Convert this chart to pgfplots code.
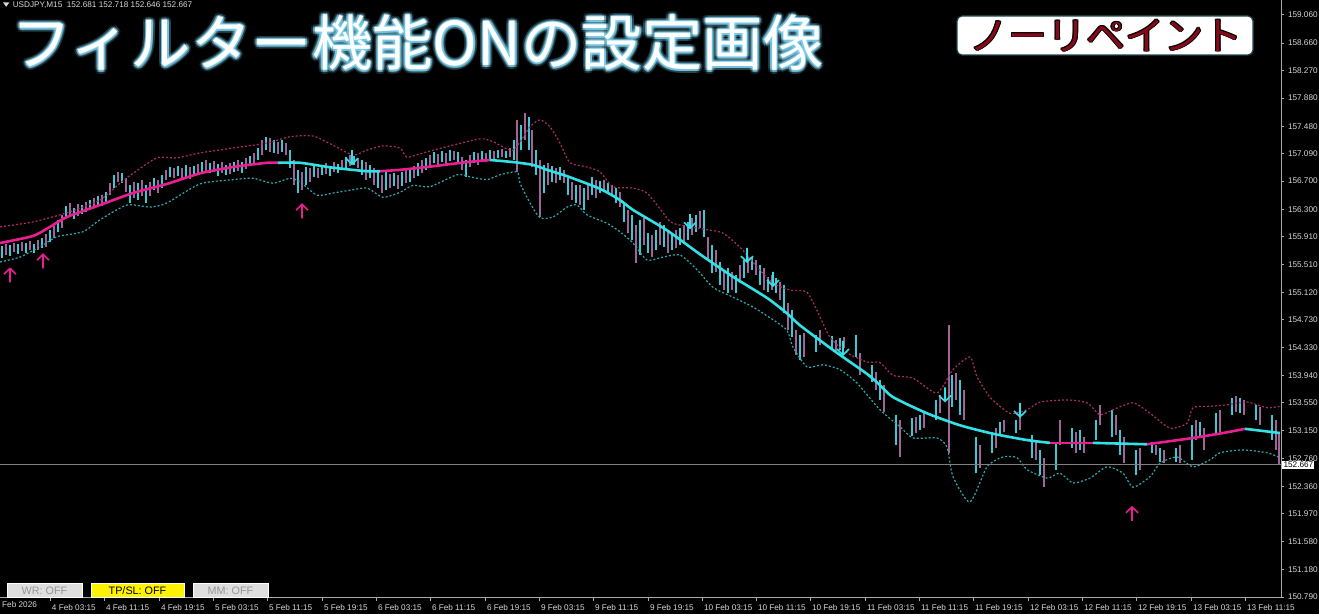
\documentclass[border=0pt]{standalone}
\usepackage{fontspec}
\setmainfont{Liberation Sans}
\newfontfamily\cjk{Noto Sans CJK JP}
\usepackage{pgfplots}
\usepackage{pgfplotstable}
\pgfplotsset{compat=1.18}

\definecolor{candleup}{RGB}{60,200,210}
\definecolor{candledn}{RGB}{160,100,150}
\definecolor{mapink}{RGB}{235,30,145}
\definecolor{macyan}{RGB}{50,225,230}
\definecolor{bandup}{RGB}{170,45,100}
\definecolor{banddn}{RGB}{45,170,175}
\definecolor{axgray}{RGB}{170,170,170}
\definecolor{lbl}{RGB}{215,215,215}
\definecolor{glow}{RGB}{130,215,245}
\definecolor{badgered}{RGB}{135,10,25}
\definecolor{btngray}{RGB}{222,222,222}
\definecolor{btntext}{RGB}{150,150,150}

% arrow signals
\pgfdeclareplotmark{arrup}{%
  \pgfpathmoveto{\pgfqpoint{0pt}{-3.5pt}}\pgfpathlineto{\pgfqpoint{0pt}{3.4pt}}%
  \pgfpathmoveto{\pgfqpoint{-3pt}{0.6pt}}\pgfpathlineto{\pgfqpoint{0pt}{3.5pt}}%
  \pgfpathlineto{\pgfqpoint{3pt}{0.6pt}}\pgfusepathqstroke}
\pgfdeclareplotmark{arrdn}{%
  \pgfpathmoveto{\pgfqpoint{0pt}{3.5pt}}\pgfpathlineto{\pgfqpoint{0pt}{-3.4pt}}%
  \pgfpathmoveto{\pgfqpoint{-3pt}{-0.6pt}}\pgfpathlineto{\pgfqpoint{0pt}{-3.5pt}}%
  \pgfpathlineto{\pgfqpoint{3pt}{-0.6pt}}\pgfusepathqstroke}

\pgfplotstableread{
x lo hi
2 155.61 155.78
6 155.65 155.81
10 155.64 155.79
14 155.69 155.82
18 155.66 155.81
22 155.71 155.83
26 155.68 155.82
30 155.72 155.85
34 155.68 155.81
38 155.72 155.86
42 155.75 155.89
46 155.76 155.95
50 155.83 156.01
54 155.89 156.06
58 155.98 156.15
62 156.03 156.22
66 156.18 156.35
70 156.22 156.39
74 156.16 156.32
78 156.20 156.37
82 156.23 156.36
86 156.26 156.40
90 156.29 156.43
94 156.32 156.46
98 156.36 156.49
102 156.35 156.50
106 156.39 156.54
110 156.50 156.67
114 156.60 156.79
118 156.69 156.83
122 156.67 156.81
126 156.55 156.74
130 156.39 156.64
134 156.46 156.69
138 156.43 156.67
142 156.49 156.72
146 156.39 156.64
150 156.49 156.69
154 156.57 156.74
158 156.53 156.72
162 156.60 156.79
166 156.72 156.86
170 156.76 156.90
174 156.74 156.89
178 156.77 156.91
182 156.72 156.89
186 156.76 156.93
190 156.73 156.90
194 156.77 156.91
198 156.80 156.94
202 156.83 156.97
206 156.84 157.00
210 156.81 156.96
214 156.83 156.99
218 156.77 156.94
222 156.81 156.97
226 156.79 156.93
230 156.80 156.96
234 156.83 156.97
238 156.84 157.00
242 156.81 156.97
246 156.87 157.03
250 156.91 157.06
254 156.94 157.10
258 157.00 157.17
262 157.07 157.28
266 157.14 157.33
270 157.11 157.31
274 157.10 157.28
278 157.09 157.26
282 157.11 157.28
286 157.07 157.24
290 156.89 157.14
294 156.64 157.00
298 156.53 156.86
302 156.57 156.83
306 156.64 156.90
310 156.69 156.89
314 156.76 156.91
318 156.74 156.89
322 156.79 156.93
326 156.80 156.96
330 156.77 156.91
334 156.83 156.97
338 156.81 156.94
342 156.86 157.00
346 156.89 157.04
350 156.91 157.07
354 156.93 157.06
358 156.89 157.03
362 156.79 157.00
366 156.72 156.97
370 156.74 156.93
374 156.64 156.89
378 156.60 156.83
382 156.53 156.79
386 156.57 156.83
390 156.60 156.80
394 156.63 156.81
398 156.59 156.79
402 156.63 156.83
406 156.67 156.86
410 156.69 156.89
414 156.74 156.91
418 156.77 156.96
422 156.81 157.00
426 156.86 157.03
430 156.90 157.07
434 156.96 157.11
438 156.93 157.09
442 156.97 157.13
446 156.94 157.10
450 156.99 157.14
454 157.00 157.13
458 156.97 157.11
462 156.86 157.04
466 156.76 157.00
470 156.90 157.07
474 156.96 157.11
478 156.93 157.10
482 156.99 157.13
486 156.97 157.10
490 157.00 157.14
494 157.01 157.13
498 157.03 157.14
502 157.04 157.16
506 157.03 157.13
510 157.04 157.17
514 157.00 157.28
517 156.83 157.57
521 157.14 157.50
525 157.28 157.67
529 157.14 157.61
532 156.90 157.43
536 156.79 157.14
540 156.19 157.00
544 156.53 156.93
548 156.64 156.96
552 156.69 156.91
556 156.67 156.89
560 156.72 156.90
564 156.67 156.86
568 156.50 156.74
572 156.43 156.69
576 156.39 156.64
580 156.36 156.64
584 156.29 156.60
588 156.43 156.67
592 156.50 156.76
596 156.46 156.72
600 156.53 156.70
604 156.54 156.72
608 156.52 156.67
612 156.49 156.64
616 156.39 156.60
620 156.33 156.54
624 156.12 156.39
628 155.96 156.29
632 155.86 156.22
636 155.54 156.08
640 155.65 156.15
644 155.79 156.17
648 155.68 155.96
652 155.62 155.93
656 155.72 156.01
660 155.79 156.12
664 155.76 156.08
668 155.68 155.98
672 155.72 155.95
676 155.75 156.01
680 155.79 156.03
684 155.82 156.08
688 155.86 156.12
692 155.93 156.17
696 155.98 156.22
700 156.03 156.27
704 155.91 156.29
708 155.58 155.91
712 155.39 155.79
716 155.41 155.72
720 155.22 155.55
724 155.15 155.44
728 155.11 155.46
732 155.15 155.41
736 155.11 155.37
740 155.25 155.51
744 155.32 155.58
748 155.39 155.61
752 155.44 155.62
756 155.37 155.58
760 155.22 155.51
764 155.15 155.46
768 155.12 155.34
772 155.15 155.37
776 155.11 155.32
780 155.01 155.27
784 154.83 155.22
788 154.58 154.97
792 154.49 154.87
796 154.23 154.58
800 154.16 154.51
804 154.20 154.54
808 154.17 154.49
812 154.16 154.44
816 154.27 154.51
820 154.37 154.58
824 154.34 154.56
828 154.27 154.47
832 154.30 154.50
836 154.26 154.44
840 154.30 154.47
844 154.33 154.49
848 154.29 154.44
852 154.30 154.54
856 154.20 154.51
860 153.94 154.26
864 153.87 154.16
868 153.83 154.13
872 153.85 154.09
876 153.73 153.99
880 153.59 153.87
884 153.42 153.80
888 153.31 153.73
892 153.26 153.66
896 152.95 153.38
900 152.78 153.31
904 153.02 153.28
908 153.05 153.31
912 153.08 153.33
916 153.12 153.35
920 153.16 153.38
924 153.19 153.42
928 153.21 153.48
932 153.28 153.55
936 153.31 153.59
940 153.40 153.66
944 153.45 153.73
949 152.84 154.65
952 153.49 153.94
956 153.59 153.97
960 153.38 153.87
964 153.31 153.73
968 152.95 153.40
972 152.84 153.31
976 152.55 153.06
980 152.62 152.95
984 152.60 152.91
988 152.71 153.02
992 152.84 153.13
996 152.91 153.19
1000 153.09 153.28
1004 153.13 153.31
1008 153.06 153.23
1012 153.09 153.28
1016 153.12 153.31
1020 153.16 153.38
1024 153.08 153.33
1028 152.88 153.16
1032 152.77 153.09
1036 152.74 153.02
1040 152.52 152.88
1044 152.35 152.77
1048 152.34 152.67
1052 152.27 152.74
1056 152.60 152.99
1060 152.95 153.31
1064 153.09 153.55
1068 153.02 153.48
1072 152.91 153.19
1076 152.84 153.13
1080 152.88 153.16
1084 152.84 153.06
1088 152.88 153.09
1092 152.91 153.16
1096 153.02 153.31
1100 153.23 153.52
1104 153.42 153.76
1108 153.31 153.66
1112 153.06 153.45
1116 153.09 153.38
1120 152.81 153.16
1124 152.69 153.06
1128 152.48 152.88
1132 152.37 152.84
1136 152.52 152.88
1140 152.60 152.91
1144 152.67 152.95
1148 152.79 152.98
1152 152.84 152.99
1156 152.81 152.95
1160 152.71 152.91
1164 152.69 152.88
1168 152.64 152.85
1172 152.67 152.88
1176 152.71 152.91
1180 152.69 152.95
1184 152.77 153.02
1188 152.91 153.33
1192 152.74 153.23
1196 153.02 153.31
1200 153.05 153.28
1204 152.88 153.19
1208 152.84 153.13
1212 152.95 153.23
1216 153.09 153.40
1220 153.13 153.45
1224 153.31 153.56
1228 153.33 153.59
1232 153.38 153.62
1236 153.42 153.65
1240 153.40 153.62
1244 153.38 153.59
1248 153.35 153.59
1252 153.33 153.55
1256 153.31 153.52
1260 153.23 153.49
1264 153.21 153.45
1268 153.16 153.42
1272 153.02 153.38
1276 152.88 153.31
1279 152.67 153.10
}\candles

\pgfplotstableread{
x y
0 156.05
33 156.12
67 156.25
100 156.43
120 156.67
133 156.81
157 157.03
177 157.03
200 157.10
233 157.17
267 157.24
290 157.33
313 157.34
333 157.21
353 157.07
367 157.14
383 157.20
400 157.17
407 157.04
423 157.10
447 157.19
480 157.30
493 157.26
513 157.14
530 157.47
540 157.57
550 157.47
560 157.24
570 156.96
587 156.90
600 156.83
613 156.62
633 156.60
647 156.53
663 156.25
673 156.10
707 156.01
723 155.96
740 155.76
757 155.48
773 155.25
790 155.15
807 155.12
820 154.77
830 154.48
847 154.26
867 154.13
880 154.12
893 153.94
913 153.90
937 153.69
953 154.02
970 154.20
977 153.92
990 153.63
1010 153.40
1027 153.45
1040 153.56
1067 153.59
1087 153.55
1100 153.38
1113 153.45
1133 153.55
1150 153.40
1170 153.19
1187 153.26
1193 153.48
1210 153.50
1227 153.52
1247 153.56
1267 153.48
1280 153.50
}\upband

\pgfplotstableread{
x y
0 155.55
20 155.62
43 155.79
57 155.91
83 155.98
100 156.15
127 156.36
150 156.33
167 156.39
200 156.66
233 156.72
253 156.74
273 156.67
290 156.74
300 156.69
317 156.50
333 156.53
350 156.57
367 156.60
383 156.47
400 156.54
413 156.64
430 156.62
457 156.79
470 156.76
487 156.72
500 156.79
517 156.83
520 156.67
530 156.39
540 156.18
553 156.19
567 156.33
577 156.36
587 156.22
607 156.10
620 155.98
633 155.82
647 155.58
663 155.62
680 155.65
697 155.44
713 155.19
733 155.05
753 154.91
773 154.73
787 154.58
793 154.34
807 154.06
823 154.09
840 154.02
857 153.83
880 153.45
900 153.21
913 153.05
937 153.05
947 152.92
953 152.50
970 152.14
987 152.64
1003 152.78
1017 152.77
1027 152.60
1047 152.48
1060 152.55
1073 152.41
1090 152.48
1107 152.64
1123 152.55
1133 152.35
1150 152.50
1160 152.69
1177 152.78
1193 152.64
1210 152.74
1220 152.84
1243 152.88
1267 152.84
1280 152.77
}\loband

\pgfplotstableread{
x y
0 155.82
33 155.92
50 156.05
67 156.19
100 156.36
133 156.53
167 156.66
200 156.81
233 156.90
267 156.96
278 156.96
300 156.96
333 156.89
367 156.84
380 156.84
400 156.86
433 156.91
467 156.97
490 157.00
513 156.97
533 156.93
547 156.86
567 156.77
600 156.59
620 156.43
633 156.29
667 156.00
700 155.66
733 155.34
767 155.04
787 154.82
800 154.65
833 154.30
867 153.96
880 153.80
893 153.63
927 153.40
960 153.23
993 153.11
1027 153.02
1050 152.98
1093 152.98
1147 152.96
1193 153.05
1227 153.13
1245 153.18
1280 153.12
}\midline

\pgfplotstableread{
x y
10 155.36
43 155.56
302 156.27
1132 151.97
}\uparrows

\pgfplotstableread{
x y
352 157.04
690 156.13
747 155.65
773 155.31
843 154.33
945 153.67
1020 153.45
}\dnarrows

\newcommand\titletext{\cjk フィルター機能ONの設定画像}
\newcommand\badgetext{\cjk ノーリペイント}

\begin{document}
\begin{tikzpicture}
\fill[black] (0,0) rectangle (659.5pt,307pt);

\begin{axis}[
    at={(0pt,8pt)}, anchor=south west,
    scale only axis, width=640.5pt, height=299pt,
    xmin=0, xmax=1281, ymin=150.776, ymax=159.273,
    axis x line*=bottom, axis y line*=right,
    axis line style={axgray, line width=0.5pt, -},
    tick align=outside, major tick length=1.5pt,
    tick style={axgray, line width=0.5pt},
    clip=false,
    ytick={150.79,151.18,151.58,151.97,152.36,152.76,153.15,153.55,153.94,154.33,154.73,155.12,155.51,155.91,156.30,156.70,157.09,157.48,157.88,158.27,158.66,159.06},
    xtick={50,104,159,213,267,322,376,430,485,539,593,648,702,756,810,865,919,973,1028,1082,1136,1191,1245},
    xticklabels={4 Feb 03:15,4 Feb 11:15,4 Feb 19:15,5 Feb 03:15,5 Feb 11:15,5 Feb 19:15,6 Feb 03:15,6 Feb 11:15,6 Feb 19:15,9 Feb 03:15,9 Feb 11:15,9 Feb 19:15,10 Feb 03:15,10 Feb 11:15,10 Feb 19:15,11 Feb 03:15,11 Feb 11:15,11 Feb 19:15,12 Feb 03:15,12 Feb 11:15,12 Feb 19:15,13 Feb 03:15,13 Feb 11:15},
    yticklabel style={font=\fontsize{4.1}{5}\selectfont, text=lbl, anchor=west, inner sep=0pt, xshift=1.8pt},
    xticklabel style={font=\fontsize{4.1}{5}\selectfont, text=lbl, anchor=north west, inner sep=0pt, xshift=0.8pt, yshift=-1.6pt},
    /pgf/number format/.cd, fixed, fixed zerofill, precision=3, 1000 sep={}, assume math mode=true,
]

% candles, two colours
\addplot[draw=none, mark=none, forget plot,
    restrict expr to domain={mod(\thisrow{x},8)}{0:3.9},
    error bars/.cd, y dir=plus, y explicit, error mark=none,
    error bar style={draw=candleup, line width=1.2pt}]
    table[x=x, y=lo, y error expr=\thisrow{hi}-\thisrow{lo}] {\candles};
\addplot[draw=none, mark=none, forget plot,
    restrict expr to domain={mod(\thisrow{x},8)}{4:7.9},
    error bars/.cd, y dir=plus, y explicit, error mark=none,
    error bar style={draw=candledn, line width=1.2pt}]
    table[x=x, y=lo, y error expr=\thisrow{hi}-\thisrow{lo}] {\candles};

% bands
\addplot[bandup, line width=0.6pt, dash pattern=on 1pt off 1pt, smooth, tension=0.4] table {\upband};
\addplot[banddn, line width=0.6pt, dash pattern=on 1pt off 1pt, smooth, tension=0.4] table {\loband};

% current price
\addplot[gray, line width=0.5pt] coordinates {(0,152.667) (1281,152.667)};

% middle line, coloured by slope
\addplot[mapink, line width=1.3pt, smooth, tension=0.4, restrict x to domain=0:278] table {\midline};
\addplot[macyan, line width=1.3pt, smooth, tension=0.4, restrict x to domain=278:380] table {\midline};
\addplot[mapink, line width=1.3pt, smooth, tension=0.4, restrict x to domain=380:490] table {\midline};
\addplot[macyan, line width=1.3pt, smooth, tension=0.4, restrict x to domain=490:1050] table {\midline};
\addplot[mapink, line width=1.3pt, smooth, tension=0.4, restrict x to domain=1050:1093] table {\midline};
\addplot[macyan, line width=1.3pt, smooth, tension=0.4, restrict x to domain=1093:1147] table {\midline};
\addplot[mapink, line width=1.3pt, smooth, tension=0.4, restrict x to domain=1147:1245] table {\midline};
\addplot[macyan, line width=1.3pt, smooth, tension=0.4, restrict x to domain=1245:1280] table {\midline};

% signals
\addplot[only marks, mark=arrup, mapink, mark options={line width=0.8pt}] table {\uparrows};
\addplot[only marks, mark=arrdn, macyan, mark options={line width=0.8pt}] table {\dnarrows};

\node[anchor=west, fill=white, text=black, inner sep=0.6pt, font=\fontsize{4.1}{5}\selectfont] at (axis cs:1282,152.667) {152.667};
\node[anchor=north west, text=lbl, inner sep=0pt, font=\fontsize{4.1}{5}\selectfont, yshift=-1.6pt] at (axis cs:-5,150.776) {3 Feb 2026};
\end{axis}

% header line
\fill[lbl] (1.5pt,305.8pt) -- (4.7pt,305.8pt) -- (3.1pt,303.6pt) -- cycle;
\node[anchor=west, inner sep=0pt, text=lbl, font=\fontsize{4.1}{5}\selectfont] at (6.2pt,304.6pt) {USDJPY,M15\ \ 152.681 152.718 152.646 152.667};

% title with glow
\foreach \a in {0,30,...,330}{
  \node[anchor=west, inner sep=0pt, text=glow, opacity=0.12, font=\fontsize{30.2}{30.2}\selectfont]
    at ({5.5pt+1.9pt*cos(\a)},{285.5pt+1.9pt*sin(\a)}) {\titletext};
}
\foreach \a in {0,45,...,315}{
  \node[anchor=west, inner sep=0pt, text=glow, opacity=0.45, font=\fontsize{30.2}{30.2}\selectfont]
    at ({5.5pt+0.9pt*cos(\a)},{285.5pt+0.9pt*sin(\a)}) {\titletext};
}
\node[anchor=west, inner sep=0pt, text=white, font=\fontsize{30.2}{30.2}\selectfont] at (5.5pt,285.5pt) {\titletext};

% badge
\draw[fill=white, draw={rgb,255:red,30;green,70;blue,80}, line width=0.6pt, rounded corners=2.5pt]
  (478.5pt,279.5pt) rectangle (626.5pt,299pt);
\foreach \a in {0,45,...,315}{
  \node[inner sep=0pt, text=black, font=\fontsize{19.5}{19.5}\selectfont]
    at ({553pt+0.4pt*cos(\a)},{289.2pt+0.4pt*sin(\a)}) {\badgetext};
}
\node[inner sep=0pt, text=badgered, font=\fontsize{19.5}{19.5}\selectfont] at (553pt,289.2pt) {\badgetext};

% buttons
\draw[fill=btngray, draw=white, line width=0.4pt] (3.5pt,8.2pt) rectangle (41pt,15.5pt);
\node[text=btntext, font=\fontsize{5.4}{6}\selectfont] at (22.25pt,11.8pt) {WR: OFF};
\draw[fill=yellow, draw=white, line width=0.4pt] (45.5pt,8.2pt) rectangle (92pt,15.5pt);
\node[text=black, font=\fontsize{5.4}{6}\selectfont] at (68.75pt,11.8pt) {TP/SL: OFF};
\draw[fill=btngray, draw=white, line width=0.4pt] (96.5pt,8.2pt) rectangle (134pt,15.5pt);
\node[text=btntext, font=\fontsize{5.4}{6}\selectfont] at (115.25pt,11.8pt) {MM: OFF};

\pgfresetboundingbox
\path (0,0) rectangle (659.5pt,307pt);
\end{tikzpicture}
\end{document}
